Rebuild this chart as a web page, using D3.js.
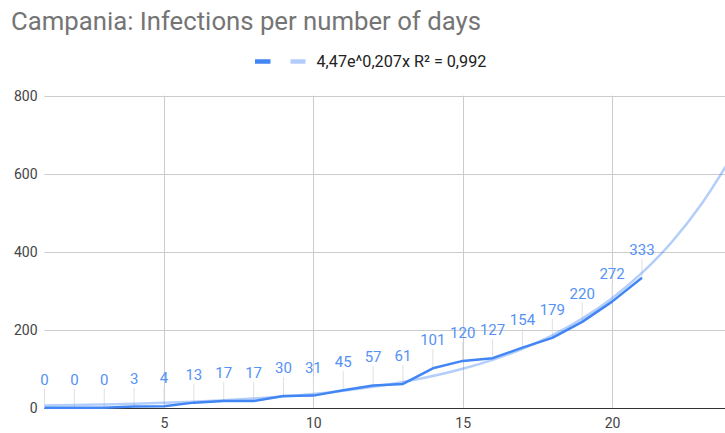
<!DOCTYPE html>
<html>
<head>
<meta charset="utf-8">
<script src="https://cdn.jsdelivr.net/npm/d3@7"></script>
<style>
  html, body { margin: 0; padding: 0; background: #fff; }
  svg { display: block; font-family: Roboto, "Noto Sans", Arial, sans-serif; }
</style>
</head>
<body>
<svg id="chart" width="725" height="433"></svg>
<script>
// ---- data ----
const days = [1,2,3,4,5,6,7,8,9,10,11,12,13,14,15,16,17,18,19,20,21];
const infections = [0,0,0,3,4,13,17,17,30,31,45,57,61,101,120,127,154,179,220,272,333];
// trendline values (4,47e^0,207x) at whole days
const trendDays = [1,2,3,4,5,6,7,8,9,10,11,12,13,14,15,16,17,18,19,20,21,22,23,24];
const trendValues = [5.5,6.8,8.3,10.2,12.6,15.5,19.0,23.4,28.8,35.4,43.6,53.6,65.9,81.1,99.8,122.7,150.9,185.7,228.4,280.9,345.5,425.0,522.8,643.0];
const xTicks = [5,10,15,20];
const yTicks = [0,200,400,600,800];
const titleText = "Campania: Infections per number of days";
const legendText = "4,47e^0,207x R\u00b2 = 0,992";

// ---- layout ----
const pLeft = 44.5, pRight = 725, pTop = 95.7, pBottom = 407.7;
const svg = d3.select("#chart");

const x = d3.scaleLinear().domain([1, 23.78]).range([pLeft, pRight]);
const y = d3.scaleLinear().domain([0, 800]).range([pBottom, pTop]);

// title
const title = svg.append("text")
  .attr("x", 11).attr("y", 30)
  .attr("fill", "#757575")
  .style("font-size", "20px")
  .text(titleText);
{
  const w = title.node().getComputedTextLength();
  title.style("font-size", (20 * 470 / w).toFixed(2) + "px");
}

// legend
svg.append("line").attr("x1", 255).attr("x2", 270.5).attr("y1", 61.5).attr("y2", 61.5)
  .attr("stroke", "#4285f4").attr("stroke-width", 4.5);
svg.append("line").attr("x1", 290.5).attr("x2", 305.5).attr("y1", 61.5).attr("y2", 61.5)
  .attr("stroke", "#b3cdfb").attr("stroke-width", 4.5);
const leg = svg.append("text")
  .attr("x", 316.5).attr("y", 67)
  .attr("fill", "#222")
  .style("font-size", "14px")
  .text(legendText);
{
  const w = leg.node().getComputedTextLength();
  leg.style("font-size", (14 * 170 / w).toFixed(2) + "px");
}

// gridlines
const grid = svg.append("g");
grid.selectAll("line.h").data(yTicks.filter(d => d !== 0)).enter().append("line")
  .attr("x1", pLeft).attr("x2", pRight)
  .attr("y1", d => Math.round(y(d)) + 0.5).attr("y2", d => Math.round(y(d)) + 0.5)
  .attr("stroke", "#cccccc").attr("stroke-width", 1);
grid.selectAll("line.v").data(xTicks).enter().append("line")
  .attr("x1", d => Math.round(x(d)) + 0.5).attr("x2", d => Math.round(x(d)) + 0.5)
  .attr("y1", pTop).attr("y2", pBottom)
  .attr("stroke", "#cccccc").attr("stroke-width", 1);

// y axis labels
const yAxis = d3.axisLeft(y).tickValues(yTicks).tickSize(0).tickPadding(7);
const yg = svg.append("g").attr("transform", `translate(${pLeft},0)`).call(yAxis);
yg.select(".domain").remove();
yg.selectAll("text").attr("fill", "#444").style("font-size", "14px")
  .style("font-family", "Roboto, 'Noto Sans', Arial, sans-serif");

// x axis labels
const xAxis = d3.axisBottom(x).tickValues(xTicks).tickSize(0).tickPadding(10);
const xg = svg.append("g").attr("transform", `translate(0,${pBottom})`).call(xAxis);
xg.select(".domain").remove();
xg.selectAll("text").attr("fill", "#444").style("font-size", "14px")
  .style("font-family", "Roboto, 'Noto Sans', Arial, sans-serif");

// baseline
svg.append("line").attr("x1", pLeft).attr("x2", pRight)
  .attr("y1", Math.round(pBottom) + 0.5).attr("y2", Math.round(pBottom) + 0.5)
  .attr("stroke", "#333").attr("stroke-width", 1);

// clip
svg.append("clipPath").attr("id", "plot")
  .append("rect").attr("x", pLeft).attr("y", pTop - 5).attr("width", pRight - pLeft).attr("height", pBottom - pTop + 10);

// leader lines
const pts = days.map((d, i) => ({ d, v: infections[i] }));
svg.append("g").selectAll("line").data(pts).enter().append("line")
  .attr("x1", p => x(p.d)).attr("x2", p => x(p.d))
  .attr("y1", p => y(p.v) - 19).attr("y2", p => y(p.v))
  .attr("stroke", "#e0e0e0").attr("stroke-width", 1);

// trendline
const trend = trendDays.map((d, i) => ({ d, v: trendValues[i] }));
svg.append("path").datum(trend)
  .attr("clip-path", "url(#plot)")
  .attr("fill", "none")
  .attr("stroke", "#4285f4").attr("stroke-opacity", 0.4)
  .attr("stroke-width", 2.5)
  .attr("d", d3.line().x(p => x(p.d)).y(p => y(p.v)).curve(d3.curveMonotoneX));

// data line
svg.append("path").datum(pts)
  .attr("fill", "none")
  .attr("stroke", "#4285f4").attr("stroke-width", 2.5)
  .attr("stroke-linejoin", "round")
  .attr("d", d3.line().x(p => x(p.d)).y(p => y(p.v)));

// data labels
svg.append("g").selectAll("text").data(pts).enter().append("text")
  .attr("x", p => x(p.d)).attr("y", p => y(p.v) - 23)
  .attr("text-anchor", "middle")
  .attr("fill", "#5592f5")
  .style("font-size", "15px")
  .text(p => p.v);
</script>
</body>
</html>
